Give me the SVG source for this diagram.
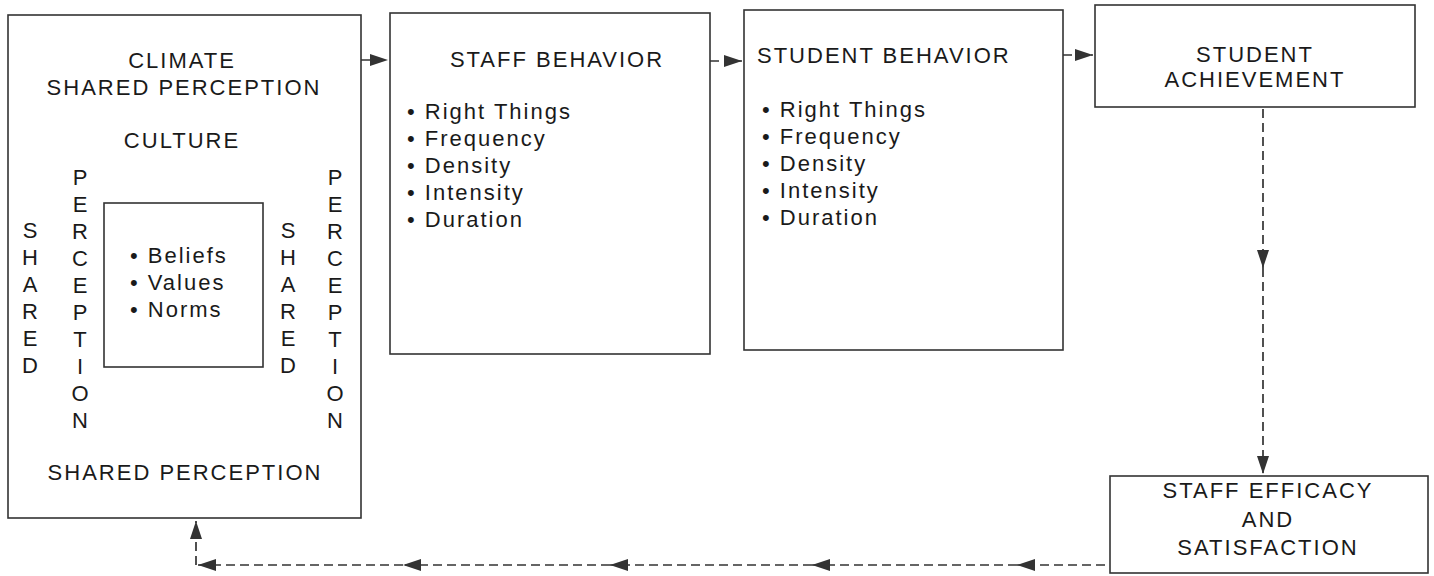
<svg xmlns="http://www.w3.org/2000/svg" width="1434" height="576" viewBox="0 0 1434 576">
<style>
.box{fill:none;stroke:#333;stroke-width:1.6}
text{font-family:"Liberation Sans",Arial,sans-serif;font-size:22px;fill:#1a1a1a;letter-spacing:2px}
.c{text-anchor:middle}
.v{text-anchor:middle;letter-spacing:0}
.con line{stroke:#333;stroke-width:1.7;stroke-dasharray:9 5}
</style>
<defs>
<marker id="ah" viewBox="0 0 18 12" refX="18" refY="6" markerWidth="18" markerHeight="12" markerUnits="userSpaceOnUse" orient="auto">
<path d="M0,0 L18,6 L0,12 z" fill="#333"/>
</marker>
</defs>
<rect width="1434" height="576" fill="#fff"/>

<g id="climate">
<rect class="box" x="8" y="15" width="353" height="503"/>
<text class="c" x="182" y="68">CLIMATE</text>
<text class="c" x="184" y="95">SHARED PERCEPTION</text>
<text class="c" x="182" y="148">CULTURE</text>
<text class="v" x="30"><tspan x="30" y="238">S</tspan><tspan x="30" y="265">H</tspan><tspan x="30" y="292">A</tspan><tspan x="30" y="319">R</tspan><tspan x="30" y="346">E</tspan><tspan x="30" y="373">D</tspan></text>
<text class="v" x="80"><tspan x="80" y="185">P</tspan><tspan x="80" y="212">E</tspan><tspan x="80" y="239">R</tspan><tspan x="80" y="266">C</tspan><tspan x="80" y="293">E</tspan><tspan x="80" y="320">P</tspan><tspan x="80" y="347">T</tspan><tspan x="80" y="374">I</tspan><tspan x="80" y="401">O</tspan><tspan x="80" y="428">N</tspan></text>
<text class="v" x="288"><tspan x="288" y="238">S</tspan><tspan x="288" y="265">H</tspan><tspan x="288" y="292">A</tspan><tspan x="288" y="319">R</tspan><tspan x="288" y="346">E</tspan><tspan x="288" y="373">D</tspan></text>
<text class="v" x="335"><tspan x="335" y="185">P</tspan><tspan x="335" y="212">E</tspan><tspan x="335" y="239">R</tspan><tspan x="335" y="266">C</tspan><tspan x="335" y="293">E</tspan><tspan x="335" y="320">P</tspan><tspan x="335" y="347">T</tspan><tspan x="335" y="374">I</tspan><tspan x="335" y="401">O</tspan><tspan x="335" y="428">N</tspan></text>
<text class="c" x="185" y="480">SHARED PERCEPTION</text>
</g>

<g id="culture-core">
<rect class="box" x="104" y="203" width="159" height="164"/>
<text x="130" y="263">• Beliefs</text>
<text x="130" y="290">• Values</text>
<text x="130" y="317">• Norms</text>
</g>

<g id="staff-behavior">
<rect class="box" x="390" y="13" width="320" height="341"/>
<text class="c" x="557" y="67">STAFF BEHAVIOR</text>
<text x="407" y="119">• Right Things</text>
<text x="407" y="146">• Frequency</text>
<text x="407" y="173">• Density</text>
<text x="407" y="200">• Intensity</text>
<text x="407" y="227">• Duration</text>
</g>

<g id="student-behavior">
<rect class="box" x="744" y="10" width="319" height="340"/>
<text x="757" y="63">STUDENT BEHAVIOR</text>
<text x="762" y="117">• Right Things</text>
<text x="762" y="144">• Frequency</text>
<text x="762" y="171">• Density</text>
<text x="762" y="198">• Intensity</text>
<text x="762" y="225">• Duration</text>
</g>

<g id="student-achievement">
<rect class="box" x="1095" y="5" width="320" height="102"/>
<text class="c" x="1255" y="62">STUDENT</text>
<text class="c" x="1255" y="87">ACHIEVEMENT</text>
</g>

<g id="staff-efficacy">
<rect class="box" x="1110" y="476" width="318" height="97"/>
<text class="c" x="1268" y="498">STAFF EFFICACY</text>
<text class="c" x="1268" y="527">AND</text>
<text class="c" x="1268" y="555">SATISFACTION</text>
</g>

<g id="connectors" class="con">
<line x1="361" y1="60" x2="388" y2="60" marker-end="url(#ah)"/>
<line x1="710" y1="61" x2="742" y2="61" marker-end="url(#ah)"/>
<line x1="1063" y1="55" x2="1093" y2="55" marker-end="url(#ah)"/>
<line x1="1263" y1="109" x2="1263" y2="268" marker-end="url(#ah)"/>
<line x1="1263" y1="268" x2="1263" y2="474" marker-end="url(#ah)"/>
<line x1="1105" y1="565" x2="1017" y2="565" marker-end="url(#ah)"/>
<line x1="1017" y1="565" x2="812" y2="565" marker-end="url(#ah)"/>
<line x1="812" y1="565" x2="610" y2="565" marker-end="url(#ah)"/>
<line x1="610" y1="565" x2="403" y2="565" marker-end="url(#ah)"/>
<line x1="403" y1="565" x2="198" y2="565" marker-end="url(#ah)"/>
<line x1="196" y1="565" x2="196" y2="521" marker-end="url(#ah)"/>
</g>
</svg>
